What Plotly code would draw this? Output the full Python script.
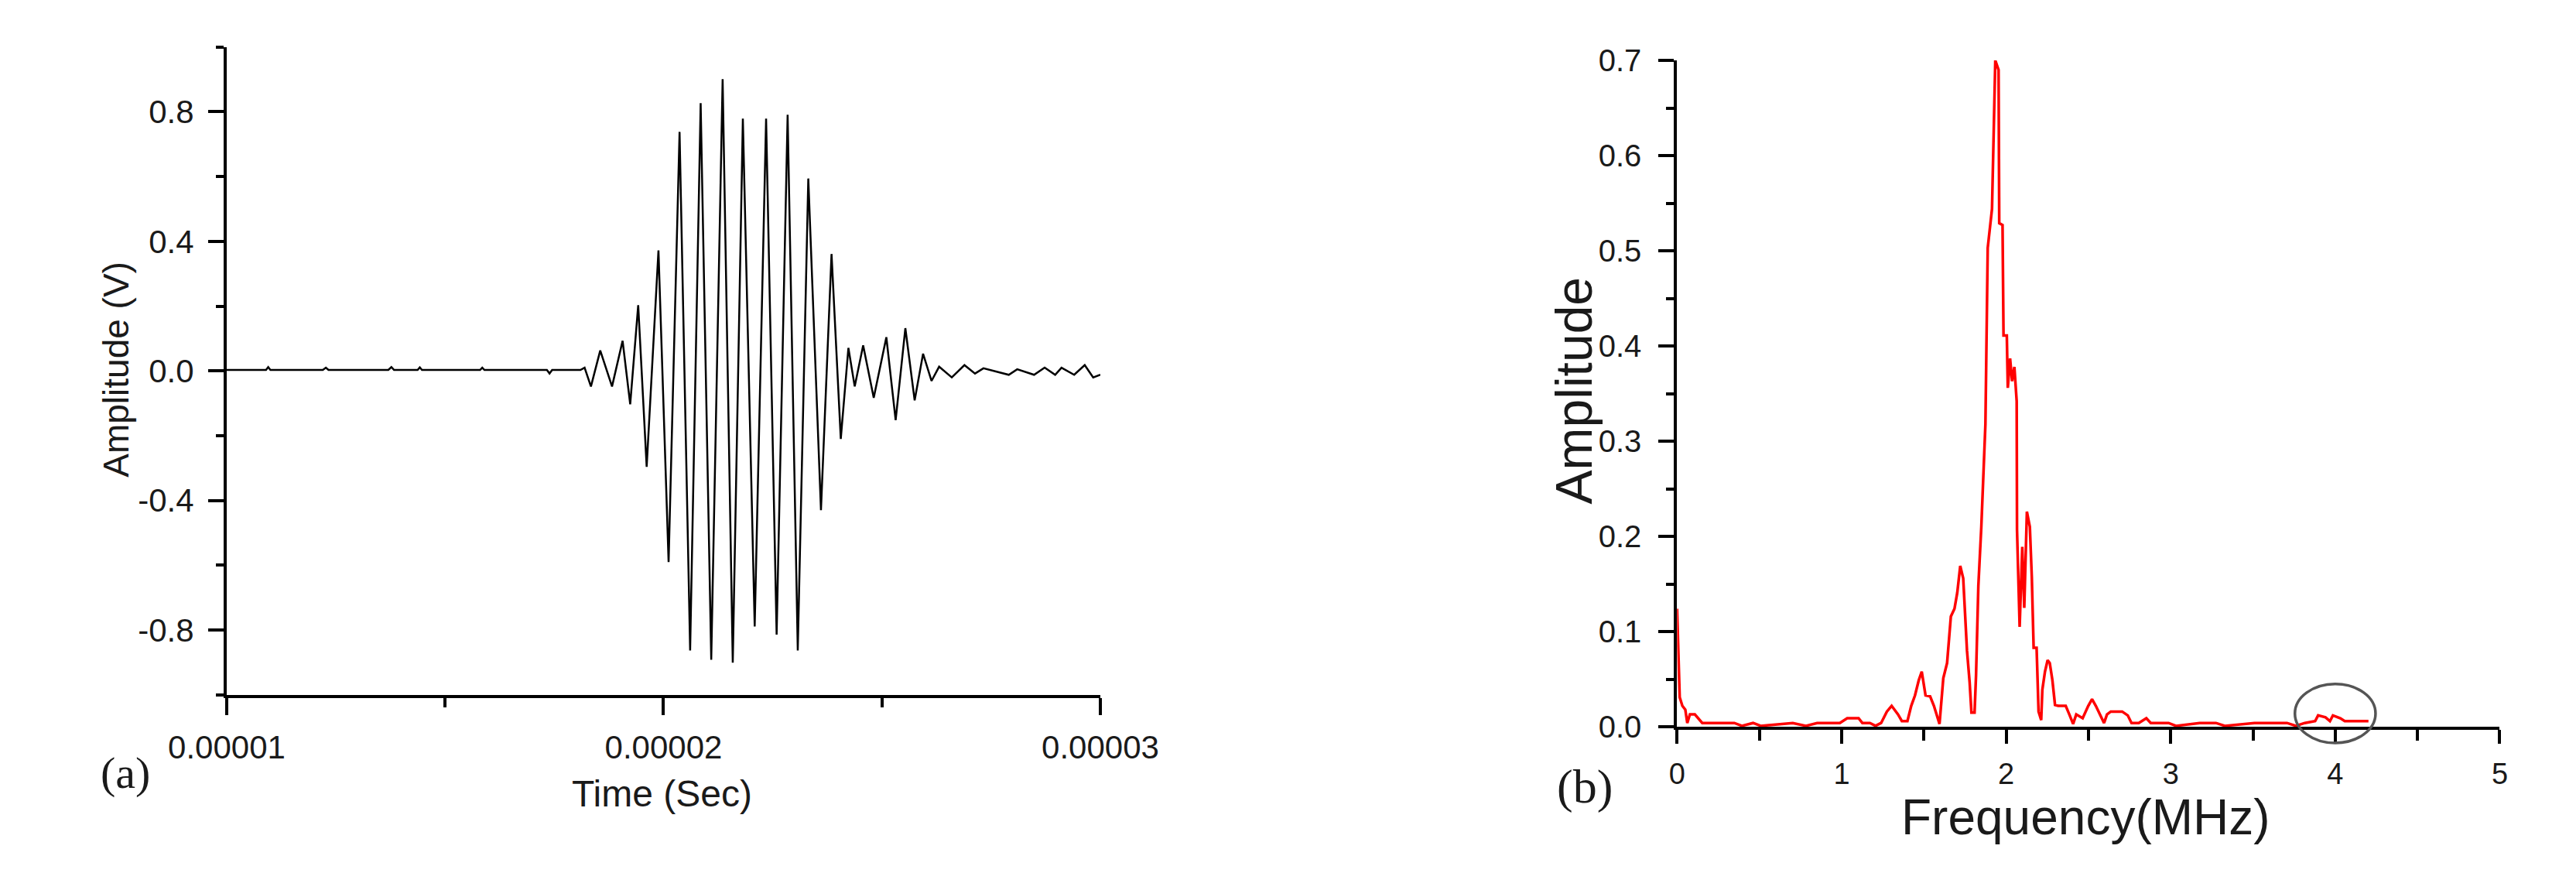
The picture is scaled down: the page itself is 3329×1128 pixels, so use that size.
import plotly.graph_objects as go
from plotly.subplots import make_subplots

# (a) time-domain burst (time in microseconds, amplitude in volts)
time_us = [10.0, 10.9, 10.95, 11.0, 12.2, 12.27, 12.33, 13.7, 13.77, 13.83,
           14.37, 14.42, 14.47, 15.8, 15.85, 15.9, 17.33, 17.39, 17.45, 18.097,
           18.193, 18.338, 18.551, 18.821, 19.063, 19.237, 19.420, 19.614, 19.884, 20.116,
           20.367, 20.609, 20.850, 21.092, 21.353, 21.585, 21.816, 22.087, 22.348, 22.589,
           22.841, 23.073, 23.314, 23.604, 23.846, 24.058, 24.232, 24.377, 24.570, 24.812,
           25.101, 25.314, 25.536, 25.749, 25.942, 26.135, 26.309, 26.599, 26.889, 27.131,
           27.324, 27.904, 28.097, 28.483, 28.725, 28.966, 29.111, 29.401, 29.643, 29.836,
           30.0]
signal_v = [0.003, 0.003, 0.012, 0.003, 0.003, 0.010, 0.003, 0.003, 0.012, 0.003,
            0.003, 0.011, 0.003, 0.003, 0.010, 0.003, 0.003, -0.008, 0.003, 0.003,
            0.010, -0.048, 0.063, -0.048, 0.093, -0.103, 0.203, -0.296, 0.372, -0.590,
            0.738, -0.863, 0.827, -0.892, 0.901, -0.901, 0.779, -0.789, 0.779, -0.814,
            0.791, -0.863, 0.594, -0.430, 0.361, -0.210, 0.071, -0.048, 0.079, -0.083,
            0.104, -0.152, 0.132, -0.091, 0.053, -0.031, 0.013, -0.020, 0.018, -0.008,
            0.008, -0.012, 0.005, -0.012, 0.010, -0.012, 0.010, -0.012, 0.018, -0.020,
            -0.012]
time_ticks = [10, 20, 30]
time_tick_text = ["0.00001", "0.00002", "0.00003"]
volt_ticks = [-0.8, -0.4, 0.0, 0.4, 0.8]
volt_tick_text = ["-0.8", "-0.4", "0.0", "0.4", "0.8"]

# (b) frequency spectrum
freq_mhz = [0.000, 0.016, 0.032, 0.050, 0.062, 0.078, 0.108, 0.137, 0.153, 0.348,
            0.394, 0.462, 0.508, 0.703, 0.783, 0.851, 0.989, 1.034, 1.103, 1.126,
            1.172, 1.206, 1.240, 1.275, 1.304, 1.343, 1.366, 1.400, 1.423, 1.446,
            1.469, 1.487, 1.510, 1.538, 1.561, 1.595, 1.618, 1.641, 1.664, 1.686,
            1.703, 1.721, 1.739, 1.762, 1.778, 1.789, 1.808, 1.817, 1.831, 1.849,
            1.874, 1.888, 1.914, 1.934, 1.954, 1.958, 1.978, 1.984, 2.004, 2.010,
            2.024, 2.036, 2.050, 2.064, 2.066, 2.082, 2.098, 2.110, 2.126, 2.144,
            2.156, 2.167, 2.185, 2.197, 2.213, 2.220, 2.236, 2.252, 2.265, 2.281,
            2.297, 2.316, 2.362, 2.384, 2.407, 2.426, 2.465, 2.499, 2.522, 2.545,
            2.568, 2.595, 2.613, 2.636, 2.705, 2.739, 2.762, 2.806, 2.852, 2.879,
            2.987, 3.032, 3.176, 3.275, 3.329, 3.509, 3.617, 3.707, 3.761, 3.815,
            3.878, 3.896, 3.941, 3.968, 3.986, 4.031, 4.058, 4.202]
spec_amp = [0.124, 0.031, 0.022, 0.018, 0.004, 0.013, 0.013, 0.007, 0.004, 0.004,
            0.001, 0.004, 0.001, 0.004, 0.001, 0.004, 0.004, 0.009, 0.009, 0.004,
            0.004, 0.001, 0.004, 0.016, 0.022, 0.013, 0.006, 0.006, 0.022, 0.033,
            0.049, 0.058, 0.033, 0.032, 0.022, 0.003, 0.051, 0.067, 0.116, 0.124,
            0.141, 0.169, 0.156, 0.080, 0.047, 0.015, 0.015, 0.054, 0.148, 0.210,
            0.318, 0.503, 0.544, 0.700, 0.690, 0.529, 0.527, 0.411, 0.411, 0.356,
            0.387, 0.363, 0.378, 0.342, 0.207, 0.105, 0.189, 0.125, 0.226, 0.210,
            0.157, 0.083, 0.083, 0.016, 0.007, 0.039, 0.058, 0.070, 0.067, 0.049,
            0.023, 0.022, 0.022, 0.013, 0.003, 0.013, 0.009, 0.022, 0.029, 0.022,
            0.013, 0.004, 0.013, 0.016, 0.016, 0.012, 0.004, 0.004, 0.009, 0.004,
            0.004, 0.001, 0.004, 0.004, 0.001, 0.004, 0.004, 0.004, 0.001, 0.004,
            0.006, 0.012, 0.010, 0.006, 0.012, 0.009, 0.006, 0.006]

# highlighted region around the 2nd harmonic (MHz, amplitude)
circle_f = (3.755, 4.245)
circle_a = (-0.017, 0.045)

W, H = 3329, 1128
SANS = "Liberation Sans, Arial"
SERIF = "Liberation Serif, Times New Roman"

fig = make_subplots(rows=1, cols=2)

fig.add_trace(go.Scatter(x=time_us, y=signal_v, mode="lines",
                         line=dict(color="black", width=2.5)), row=1, col=1)
fig.add_trace(go.Scatter(x=freq_mhz, y=spec_amp, mode="lines",
                         line=dict(color="#ff0000", width=3.5)), row=1, col=2)

axis_common = dict(showline=True, linecolor="black", linewidth=4, showgrid=False,
                   zeroline=False, ticks="outside", tickwidth=4, tickcolor="black",
                   mirror=False)

fig.update_xaxes(axis_common, row=1, col=1)
fig.update_yaxes(axis_common, row=1, col=1)
fig.update_xaxes(axis_common, row=1, col=2)
fig.update_yaxes(axis_common, row=1, col=2)

fig.update_layout(
    width=W, height=H,
    margin=dict(l=0, r=0, t=0, b=0),
    paper_bgcolor="white", plot_bgcolor="white",
    showlegend=False,
    font=dict(family=SANS, color="#1a1a1a"),
    xaxis=dict(domain=[219 / W, 1402 / W], range=[10, 30],
               tickvals=time_ticks, ticktext=time_tick_text, ticklen=22,
               tickfont=dict(size=42), ticklabelstandoff=6,
               minor=dict(dtick=5, tick0=10, ticks="outside", ticklen=12,
                          tickwidth=4, tickcolor="black", showgrid=False)),
    yaxis=dict(domain=[1 - 903 / H, 1 - 32 / H], range=[-1.0, 1.0],
               tickvals=volt_ticks, ticktext=volt_tick_text, ticklen=20,
               tickfont=dict(size=42), ticklabelstandoff=10,
               minor=dict(dtick=0.2, tick0=0, ticks="outside", ticklen=10,
                          tickwidth=4, tickcolor="black", showgrid=False)),
    xaxis2=dict(domain=[2183 / W, 3297 / W], range=[0, 5],
                dtick=1, tick0=0, ticklen=18, tickfont=dict(size=38),
                ticklabelstandoff=6,
                minor=dict(dtick=0.5, tick0=0, ticks="outside", ticklen=14,
                           tickwidth=4, tickcolor="black", showgrid=False)),
    yaxis2=dict(domain=[1 - 946 / H, 1 - 50 / H], range=[0, 0.7],
                dtick=0.1, tick0=0, tickformat=".1f", ticklen=20,
                tickfont=dict(size=40), ticklabelstandoff=14,
                minor=dict(dtick=0.05, tick0=0, ticks="outside", ticklen=10,
                           tickwidth=4, tickcolor="black", showgrid=False)),
)

# ellipse marking the small component near 4 MHz
f_lo, f_hi = fig.layout.xaxis2.range
a_lo, a_hi = fig.layout.yaxis2.range
fig.add_shape(type="circle", xref="x2 domain", yref="y2 domain",
              x0=(circle_f[0] - f_lo) / (f_hi - f_lo), x1=(circle_f[1] - f_lo) / (f_hi - f_lo),
              y0=(circle_a[0] - a_lo) / (a_hi - a_lo), y1=(circle_a[1] - a_lo) / (a_hi - a_lo),
              line=dict(color="#555555", width=3.5))

annots = [
    dict(text="Amplitude (V)", x=69 / W, y=1 - 465 / H, textangle=-90,
         font=dict(size=46, family=SANS)),
    dict(text="Time (Sec)", x=808 / W, y=1 - 1036 / H, font=dict(size=48, family=SANS)),
    dict(text="(a)", x=82 / W, y=1 - 1008 / H, font=dict(size=58, family=SERIF)),
    dict(text="Amplitude", x=2043 / W, y=1 - 494 / H, textangle=-90,
         font=dict(size=66, family=SANS)),
    dict(text="Frequency(MHz)", x=2736 / W, y=1 - 1068 / H, font=dict(size=64, family=SANS)),
    dict(text="(b)", x=2058 / W, y=1 - 1027 / H, font=dict(size=62, family=SERIF)),
]
for a in annots:
    fig.add_annotation(xref="paper", yref="paper", showarrow=False,
                       xanchor="center", yanchor="middle", **a)

fig.write_html("out.html")
